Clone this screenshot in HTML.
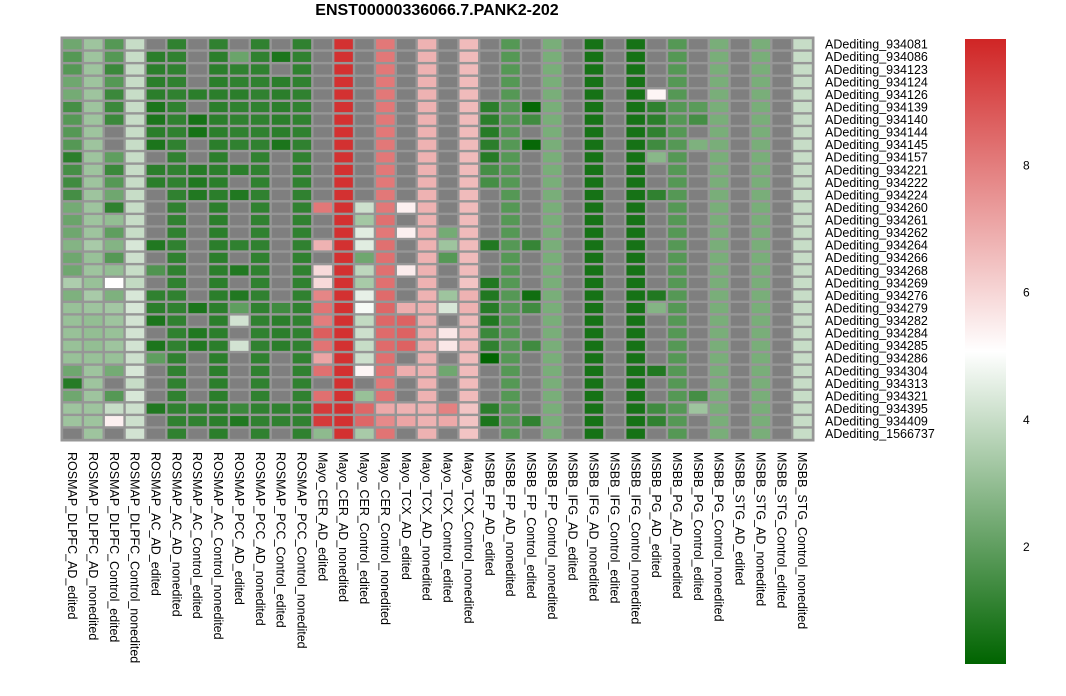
<!DOCTYPE html>
<html><head><meta charset="utf-8">
<style>
body{margin:0;background:#fff;width:1066px;height:691px;overflow:hidden;font-family:"Liberation Sans",sans-serif;}
svg text{font-family:"Liberation Sans",sans-serif;}
</style></head>
<body>
<svg id="chart" width="1066" height="691" xmlns="http://www.w3.org/2000/svg">
<defs>
<linearGradient id="lg" x1="0" y1="1" x2="0" y2="0">
<stop offset="0" stop-color="#006400"/>
<stop offset="0.5" stop-color="#ffffff"/>
<stop offset="1" stop-color="#d02525"/>
</linearGradient>
</defs>
<text x="437" y="15" text-anchor="middle" font-size="16" font-weight="bold" fill="#000">ENST00000336066.7.PANK2-202</text>
<rect x="60.5" y="36.5" width="754" height="405" fill="#969696"/>
<g id="cells"></g>
<g id="rowlabels"></g>
<g id="collabels"></g>
<rect x="965" y="39" width="41" height="625" fill="url(#lg)"/>
<g id="legend"></g>
</svg>
<script>
const n = null;
const columns = ["ROSMAP_DLPFC_AD_edited","ROSMAP_DLPFC_AD_nonedited","ROSMAP_DLPFC_Control_edited","ROSMAP_DLPFC_Control_nonedited","ROSMAP_AC_AD_edited","ROSMAP_AC_AD_nonedited","ROSMAP_AC_Control_edited","ROSMAP_AC_Control_nonedited","ROSMAP_PCC_AD_edited","ROSMAP_PCC_AD_nonedited","ROSMAP_PCC_Control_edited","ROSMAP_PCC_Control_nonedited","Mayo_CER_AD_edited","Mayo_CER_AD_nonedited","Mayo_CER_Control_edited","Mayo_CER_Control_nonedited","Mayo_TCX_AD_edited","Mayo_TCX_AD_nonedited","Mayo_TCX_Control_edited","Mayo_TCX_Control_nonedited","MSBB_FP_AD_edited","MSBB_FP_AD_nonedited","MSBB_FP_Control_edited","MSBB_FP_Control_nonedited","MSBB_IFG_AD_edited","MSBB_IFG_AD_nonedited","MSBB_IFG_Control_edited","MSBB_IFG_Control_nonedited","MSBB_PG_AD_edited","MSBB_PG_AD_nonedited","MSBB_PG_Control_edited","MSBB_PG_Control_nonedited","MSBB_STG_AD_edited","MSBB_STG_AD_nonedited","MSBB_STG_Control_edited","MSBB_STG_Control_nonedited"];
const rows = ["ADediting_934081","ADediting_934086","ADediting_934123","ADediting_934124","ADediting_934126","ADediting_934139","ADediting_934140","ADediting_934144","ADediting_934145","ADediting_934157","ADediting_934221","ADediting_934222","ADediting_934224","ADediting_934260","ADediting_934261","ADediting_934262","ADediting_934264","ADediting_934266","ADediting_934268","ADediting_934269","ADediting_934276","ADediting_934279","ADediting_934282","ADediting_934284","ADediting_934285","ADediting_934286","ADediting_934304","ADediting_934313","ADediting_934321","ADediting_934395","ADediting_934409","ADediting_1566737"];
const legendTicks = [2,4,6,8];
const values = [
[2.3,3.2,1.8,4.0, n,1.1,n,1.1,n,1.1,n,1.1, n,9.7,n,8.1,n,6.8, n,6.6,n,1.8,n,2.5,n,0.6,n,0.6,n,1.8,n,2.5,n,2.5,n,4.0],
[1.8,3.2,1.8,4.0, 1.0,1.1,n,1.0,2.2,1.1,0.7,1.1, n,9.7,n,8.1,n,6.8, n,6.6,n,1.8,n,2.5,n,0.6,n,0.6,n,1.8,n,2.5,n,2.5,n,4.0],
[1.8,3.2,1.3,4.0, 1.0,1.1,n,1.0,1.1,1.1,n,1.1, n,9.7,n,8.1,n,6.8, n,6.6,n,1.8,n,2.5,n,0.6,n,0.6,n,1.8,n,2.5,n,2.5,n,4.0],
[2.3,3.2,1.8,4.0, 1.0,1.1,n,1.0,1.1,1.1,1.0,1.1, n,9.7,n,8.1,n,6.8, n,6.6,n,1.8,n,2.5,n,0.6,n,0.6,n,1.8,n,2.5,n,2.5,n,4.0],
[2.4,3.2,1.3,4.0, 1.0,1.1,1.0,1.0,1.0,1.1,1.0,1.1, n,9.7,n,8.1,n,6.8, n,6.6,n,1.8,n,2.5,n,0.6,n,0.6,5.3,1.8,n,2.5,n,2.5,n,4.0],
[1.5,3.2,1.3,4.0, 0.7,1.1,n,1.0,1.1,1.1,1.0,1.1, n,9.7,n,8.1,n,6.8, n,6.6,1.0,1.8,0.3,2.5,n,0.6,n,0.6,1.1,1.8,1.9,2.5,n,2.5,n,4.0],
[1.8,3.2,1.3,4.0, 0.7,1.1,0.6,1.0,1.1,1.1,1.0,1.1, n,9.7,n,8.1,n,6.8, n,6.6,1.0,1.8,1.4,2.5,n,0.6,n,0.6,1.0,1.8,1.5,2.5,n,2.5,n,4.0],
[1.8,3.2,n,4.0, 1.0,1.1,0.6,1.0,1.1,1.1,1.0,1.1, n,9.7,n,8.1,n,6.8, n,6.6,0.9,1.8,n,2.5,n,0.6,n,0.6,1.1,1.8,n,2.5,n,2.5,n,4.0],
[1.8,3.2,n,4.0, 0.7,1.1,n,1.0,1.1,1.1,0.7,1.1, n,9.7,n,8.1,n,6.8, n,6.6,1.0,1.8,0.3,2.5,n,0.6,n,0.6,1.4,1.8,2.6,2.5,n,2.5,n,4.0],
[1.0,3.2,2.0,4.0, n,1.1,n,1.0,n,1.1,n,1.1, n,9.7,n,8.1,n,6.8, n,6.6,0.9,1.8,n,2.5,n,0.6,n,0.6,2.8,1.8,n,2.5,n,2.5,n,4.0],
[1.5,3.2,1.3,4.0, 1.0,1.1,0.9,1.0,1.0,1.1,n,1.1, n,9.7,n,8.1,n,6.8, n,6.6,1.5,1.8,n,2.5,n,0.6,n,0.6,n,1.8,n,2.5,n,2.5,n,4.0],
[1.4,3.2,1.8,4.0, 1.0,1.1,0.8,1.0,n,1.1,n,1.1, n,9.7,n,8.1,n,6.8, n,6.6,1.5,1.8,n,2.5,n,0.6,n,0.6,n,1.8,n,2.5,n,2.5,n,4.0],
[1.5,3.2,2.3,4.0, n,1.1,0.8,1.0,0.8,1.1,n,1.1, n,9.7,n,8.1,n,6.8, n,6.6,n,1.8,n,2.5,n,0.6,n,0.6,1.1,1.8,n,2.5,n,2.5,n,4.0],
[2.4,3.2,1.1,4.0, n,1.1,n,1.0,n,1.1,n,1.1, 8.1,9.7,4.1,8.1,5.4,6.8, n,6.6,n,1.8,n,2.5,n,0.6,n,0.6,n,1.8,n,2.5,n,2.5,n,4.0],
[2.2,3.2,3.0,4.0, n,1.1,n,1.0,n,1.1,n,1.1, n,9.7,3.3,8.3,n,6.8, n,6.6,n,1.8,n,2.5,n,0.6,n,0.6,n,1.8,n,2.5,n,2.5,n,4.0],
[2.3,3.2,2.0,4.0, n,1.1,n,1.0,n,1.1,n,1.1, n,9.7,4.5,8.1,5.4,6.8, 2.4,6.6,n,1.8,n,2.5,n,0.6,n,0.6,n,1.8,n,2.5,n,2.5,n,4.0],
[2.7,3.4,2.7,4.3, 0.8,1.1,n,1.0,1.1,1.1,n,1.1, 6.8,9.7,4.5,8.3,n,6.8, 3.2,6.6,0.8,1.8,1.2,2.5,n,0.6,n,0.6,n,1.8,n,2.5,n,2.5,n,4.0],
[2.3,3.1,1.8,4.1, n,1.1,n,1.0,n,1.1,n,1.1, n,9.7,2.3,8.3,n,6.8, 1.8,6.6,n,1.8,n,2.5,n,0.6,n,0.6,n,1.8,n,2.5,n,2.5,n,4.0],
[2.3,3.2,3.0,4.0, 1.7,1.1,n,1.0,0.8,1.1,n,1.1, 5.9,9.7,3.8,8.3,5.5,6.8, n,6.6,n,1.8,n,2.5,n,0.6,n,0.6,n,1.8,n,2.5,n,2.5,n,4.0],
[3.5,3.1,5.1,3.9, n,1.1,n,1.0,n,1.1,n,1.1, 5.9,9.7,3.4,8.3,n,6.8, n,6.4,0.8,1.8,n,2.5,n,0.6,n,0.6,n,1.8,n,2.5,n,2.5,n,4.0],
[2.6,3.4,2.6,4.3, 1.1,1.1,n,1.0,0.8,1.1,n,1.1, 7.8,9.7,4.6,8.4,n,6.8, 3.2,6.8,0.8,1.8,0.5,2.5,n,0.6,n,0.6,0.8,1.8,n,2.5,n,2.5,n,4.0],
[3.1,3.2,3.3,4.3, 1.0,1.1,0.7,1.0,2.0,1.1,1.4,1.1, 8.2,9.7,4.9,8.5,6.9,6.8, 4.3,6.8,0.9,1.8,1.4,2.5,n,0.6,n,0.6,2.7,1.8,n,2.5,n,2.5,n,4.0],
[3.1,3.0,3.2,4.2, 0.7,1.1,n,1.0,4.2,1.1,1.0,1.1, 8.0,9.7,3.9,8.5,8.6,6.8, n,6.6,0.8,1.8,n,2.5,n,0.6,n,0.6,n,1.8,n,2.5,n,2.5,n,4.0],
[3.1,3.0,3.1,4.2, n,1.1,0.8,1.0,n,1.1,1.0,1.1, 8.7,9.7,4.1,8.4,8.6,6.8, 5.6,6.6,1.3,1.8,n,2.5,n,0.6,n,0.6,n,1.8,n,2.5,n,2.5,n,4.0],
[3.1,3.0,3.2,4.2, 0.7,1.1,0.8,1.0,4.2,1.1,1.0,1.1, 8.2,9.7,4.0,8.4,8.6,6.8, 5.6,6.6,1.1,1.8,1.4,2.5,n,0.6,n,0.6,n,1.8,n,2.5,n,2.5,n,4.0],
[3.1,3.1,3.1,4.1, 2.0,1.1,n,1.0,n,1.1,n,1.1, 7.1,9.7,4.1,8.3,n,6.8, n,6.6,0.2,1.8,n,2.5,n,0.6,n,0.6,n,1.8,n,2.5,n,2.5,n,4.0],
[2.3,3.2,2.4,4.3, n,1.1,n,1.0,n,1.1,n,1.1, 8.3,9.7,5.3,8.2,6.9,6.8, 2.3,6.6,n,1.8,n,2.5,n,0.6,n,0.6,0.8,1.8,n,2.5,n,2.5,n,4.0],
[0.9,3.2,n,4.0, n,1.1,n,1.0,n,1.1,n,1.1, n,9.7,n,8.1,n,6.8, n,6.6,n,1.8,n,2.5,n,0.6,n,0.6,n,1.8,n,2.5,n,2.5,n,4.0],
[2.3,3.2,1.8,4.3, n,1.1,n,1.0,n,1.1,n,1.1, 8.3,9.7,3.1,8.2,n,6.8, n,6.6,n,1.8,n,2.5,n,0.6,n,0.6,n,1.8,1.5,2.5,n,2.5,n,4.0],
[3.2,3.2,4.0,4.1, 0.8,1.1,1.1,1.0,1.3,1.1,1.1,1.1, 9.5,9.7,8.5,7.0,6.8,6.8, 7.9,6.4,1.0,1.8,n,2.5,n,0.6,n,0.6,1.4,1.8,3.2,2.5,n,2.5,n,4.0],
[3.2,3.2,5.4,4.1, n,1.1,1.1,1.0,0.8,1.1,1.1,1.1, 9.5,9.7,8.5,7.7,7.1,6.8, 7.0,6.4,0.7,1.8,1.1,2.5,n,0.6,n,0.6,1.1,1.8,n,2.5,n,2.5,n,4.0],
[n,3.2,n,4.2, n,1.1,n,1.0,n,1.1,n,1.1, 2.9,9.7,3.4,8.2,n,6.8, n,6.4,n,1.8,n,2.5,n,0.6,n,0.6,n,1.8,n,2.5,n,2.5,n,4.0]
];
const X0=62, Y0=38, CW=(813-62)/36, RH=(440-38)/32;
const VMIN=0.17, VMID=5.07, VMAX=9.98;
function xScale(i){return X0+i*CW;}
function yScale(j){return Y0+j*RH;}
function legendY(v){return 663-(v-VMIN)/(VMAX-VMIN)*624;}
function lerp(a,b,t){return Math.round(a+(b-a)*t);}
function color(v){
  if(v===null) return '#7f7f7f';
  let t;
  if(v<=VMID){t=Math.max(0,(v-VMIN)/(VMID-VMIN));return `rgb(${lerp(0,255,t)},${lerp(100,255,t)},${lerp(0,255,t)})`;}
  t=Math.min(1,(v-VMID)/(VMAX-VMID));
  return `rgb(${lerp(255,208,t)},${lerp(255,37,t)},${lerp(255,37,t)})`;
}
const NS='http://www.w3.org/2000/svg';
const gc=document.getElementById('cells');
values.forEach((row,j)=>row.forEach((v,i)=>{
  const r=document.createElementNS(NS,'rect');
  r.setAttribute('x',(xScale(i)+1.2).toFixed(2));
  r.setAttribute('y',(yScale(j)+1.2).toFixed(2));
  r.setAttribute('width',(CW-2.4).toFixed(2));
  r.setAttribute('height',(RH-2.4).toFixed(2));
  r.setAttribute('fill',color(v));
  
  
  gc.appendChild(r);
}));
const gr=document.getElementById('rowlabels');
rows.forEach((s,j)=>{
  const t=document.createElementNS(NS,'text');
  t.setAttribute('x',825);
  t.setAttribute('y',(yScale(j)+RH/2+4.4).toFixed(2));
  t.setAttribute('font-size','12.5');
  t.textContent=s;
  
  
  gr.appendChild(t);
});
const gcl=document.getElementById('collabels');
columns.forEach((s,i)=>{
  const t=document.createElementNS(NS,'text');
  const cx=xScale(i)+CW/2-4.4, cy=452;
  t.setAttribute('x',cx.toFixed(2));
  t.setAttribute('y',cy);
  t.setAttribute('font-size','12.5');
  t.setAttribute('transform',`rotate(90 ${cx.toFixed(2)} ${cy})`);
  t.textContent=s;
  
  
  gcl.appendChild(t);
});
const gl=document.getElementById('legend');
legendTicks.forEach(v=>{
  const y=legendY(v);
  const t=document.createElementNS(NS,'text');
  t.setAttribute('x',1023);
  t.setAttribute('y',(y+4.5).toFixed(2));
  t.setAttribute('font-size','12');
  t.textContent=v;
  
  
  gl.appendChild(t);
});
</script>
</body></html>
